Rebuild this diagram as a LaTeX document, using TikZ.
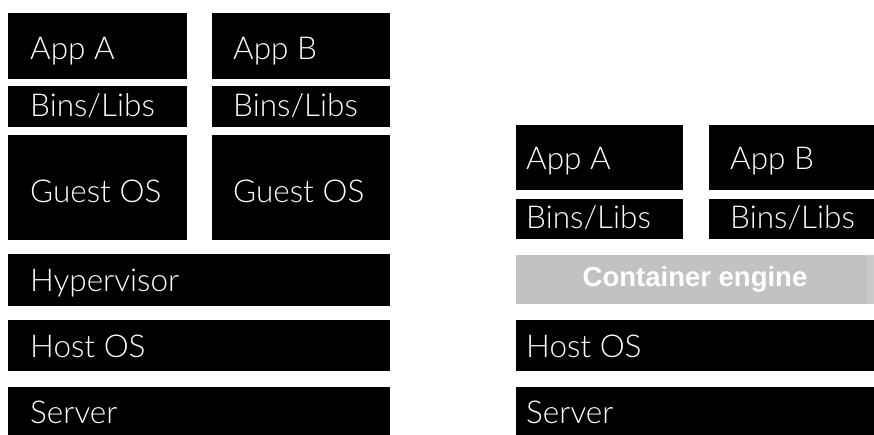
\documentclass[tikz,border=0pt]{standalone}
\usepackage{fontspec}
\setmainfont{Lato Light}
\newfontfamily\enginefont{Liberation Sans}
\definecolor{enginegray}{HTML}{C2C2C2}
\definecolor{engineedge}{HTML}{CACACA}
\tikzset{
  layer/.style={fill=black, draw=none, anchor=north west, inner sep=0pt, outer sep=0pt},
  enginebox/.style={layer, fill=enginegray},
  lbl/.style={text=white, anchor=base west, inner sep=0pt, font=\fontsize{31.5}{31.5}\selectfont},
  englbl/.style={text=white, anchor=base, inner sep=0pt, font=\enginefont\bfseries\fontsize{27.5}{27.5}\selectfont}
}
\begin{document}
\begin{tikzpicture}[x=1pt, y=-1pt]
\useasboundingbox (0,0) rectangle (874,435);

% Virtual machines stack
\node[layer, minimum width=179, minimum height=66]  (appA)   at (8,13)   {};
\node[layer, minimum width=178, minimum height=66]  (appB)   at (212,13) {};
\node[layer, minimum width=179, minimum height=41]  (binsA)  at (8,86)   {};
\node[layer, minimum width=178, minimum height=41]  (binsB)  at (212,86) {};
\node[layer, minimum width=179, minimum height=105] (guestA) at (8,135)  {};
\node[layer, minimum width=178, minimum height=105] (guestB) at (212,135){};
\node[layer, minimum width=382, minimum height=52]  (hyper)  at (8,254)  {};
\node[layer, minimum width=382, minimum height=51]  (hostL)  at (8,320)  {};
\node[layer, minimum width=382, minimum height=48]  (servL)  at (8,387)  {};

\node[lbl] (tAppA)   at (30,60)   {App A};
\node[lbl] (tAppB)   at (233,60)  {App B};
\node[lbl] (tBinsA)  at (30,117)  {Bins/Libs};
\node[lbl] (tBinsB)  at (233,117) {Bins/Libs};
\node[lbl] (tGuestA) at (30,203)  {Guest OS};
\node[lbl] (tGuestB) at (233,203) {Guest OS};
\node[lbl] (tHyper)  at (30,291)  {Hypervisor};
\node[lbl] (tHostL)  at (30,357)  {Host OS};
\node[lbl] (tServL)  at (30,423)  {Server};

% Containers stack
\node[layer, minimum width=167, minimum height=65] (appA2)  at (516,125) {};
\node[layer, minimum width=165, minimum height=65] (appB2)  at (709,125) {};
\node[layer, minimum width=167, minimum height=40] (binsA2) at (516,199) {};
\node[layer, minimum width=165, minimum height=40] (binsB2) at (709,199) {};
\node[enginebox, minimum width=351, minimum height=49] (engine) at (516,255) {};
\node[enginebox, fill=engineedge, minimum width=7, minimum height=49] (engEdge) at (867,255) {};
\node[layer, minimum width=358, minimum height=51] (hostR)  at (516,320) {};
\node[layer, minimum width=358, minimum height=48] (servR)  at (516,387) {};

\node[lbl] (tAppA2)  at (526,170) {App A};
\node[lbl] (tAppB2)  at (730,170) {App B};
\node[lbl] (tBinsA2) at (526,229) {Bins/Libs};
\node[lbl] (tBinsB2) at (730,229) {Bins/Libs};
\node[englbl] (tEngine) at (695,286) {Container engine};
\node[lbl] (tHostR)  at (526,357) {Host OS};
\node[lbl] (tServR)  at (526,423) {Server};
\end{tikzpicture}
\end{document}
